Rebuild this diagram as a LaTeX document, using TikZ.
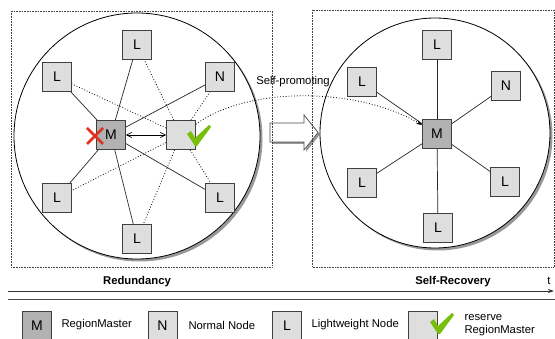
\documentclass[tikz,border=0pt]{standalone}
\usepackage{fontspec}
\setmainfont{Liberation Sans}
\usetikzlibrary{arrows.meta,shadows}
\definecolor{checkgreen}{HTML}{78BE0A}
\definecolor{crossred}{HTML}{E0301E}

\begin{document}
\begin{tikzpicture}[x=1pt,y=-1pt,
    sq/.style={shape=rectangle, draw=black!75, fill=black!13, line width=0.8pt, minimum size=29pt, inner sep=0pt,
      font=\fontsize{14}{14}\selectfont, general shadow={fill=black!40, shadow xshift=0.8pt, shadow yshift=-0.8pt}},
    msq/.style={sq, fill=black!30},
    solidlink/.style={draw=black!85, line width=0.7pt},
    dotlink/.style={draw=black, line width=0.8pt, dotted},
    dotframe/.style={draw=black!75, line width=0.6pt, densely dotted},
    ring/.style={draw=black, line width=0.8pt, fill=white},
    txt/.style={font=\fontsize{11.3}{13.5}\selectfont},
    phasetxt/.style={font=\fontsize{11.3}{13.5}\selectfont\bfseries},
    pics/greencheck/.style={code={\fill[checkgreen] (0,0) -- (4,-3) -- (8,4) -- (22,-9) -- (24,-7) -- (10,12) -- (8,12) -- cycle;}}]
    \useasboundingbox (0,0) rectangle (555,339);
    \fill[black!40] (272,125) -- (306,125) -- (306,117) -- (320,134.5) -- (306,152) -- (306,144) -- (272,144) -- cycle;
    \draw[fill=white, draw=black!70, line width=0.7pt] (270,123) -- (304,123) -- (304,115) -- (318,132.5) -- (304,150) -- (304,142) -- (270,142) -- cycle;
    \draw[dotframe] (11,11) rectangle (272,267);
    \draw[dotframe] (312,10) rectangle (554,267);
    \fill[black!40] (139.5,138.5) circle[radius=123];
    \draw[ring] (137,136) circle[radius=123];
    \fill[black!40] (437.5,135.5) circle[radius=115];
    \draw[ring] (435,133) circle[radius=115];

    \node[sq] at (137,45) (LT) {L};
    \node[sq] at (57,77) (LUL) {L};
    \node[sq] at (220,77) (NUR) {N};
    \node[msq] at (111,135) (M) {M};
    \node[sq] at (181,135) (R) {};
    \node[sq] at (57,198) (LLL) {L};
    \node[sq] at (220,198) (LLR) {L};
    \node[sq] at (137,239) (LB) {L};
    \path[solidlink] (M) edge (LT) edge (LUL) edge (NUR) edge (LLL) edge (LLR) edge (LB);
    \path[dotlink] (R) edge (LT) edge (LUL) edge (NUR) edge (LLL) edge (LLR) edge (LB);
    \draw[line width=0.7pt, {Straight Barb[length=5pt,width=5pt]}-{Straight Barb[length=5pt,width=5pt]}] (M) -- (R);
    \draw[crossred, line width=2.6pt] (87,128) -- (103,144) (87,144) -- (103,128);
    \pic at (187,134) {greencheck};

    \node[sq] at (437,45) (LT2) {L};
    \node[sq] at (362,82) (LUL2) {L};
    \node[sq] at (506,86) (NUR2) {N};
    \node[msq] at (437,134) (M2) {M};
    \node[sq] at (362,183) (LLL2) {L};
    \node[sq] at (505,182) (LLR2) {L};
    \node[sq] at (438,228) (LB2) {L};
    \path[solidlink] (M2) edge (LT2) edge (LUL2) edge (NUR2) edge (LLL2) edge (LLR2) edge (LB2);

    \node[txt] at (293,82) (promo) {Self-promoting};
    \draw[dotlink, -{Stealth[length=6pt,width=4pt]}] (R) .. controls (250,85) and (360,88) .. (M2);

    \node[phasetxt] at (137,282) (red) {Redundancy};
    \node[phasetxt] at (453,282) (rec) {Self-Recovery};
    \node[txt] at (549,281) (t) {t};
    \coordinate (t0) at (8,291);
    \coordinate (t1) at (554,291);
    \coordinate (b0) at (8,299);
    \coordinate (b1) at (555,299);
    \draw[black!80, line width=0.9pt, -{Stealth[length=6pt,width=4pt]}] (t0) -- (t1);
    \draw[black!70, line width=0.9pt] (b0) -- (b1);

    \node[msq] at (37,326) (kM) {M};
    \node[txt, anchor=west] at (58,325) (kMtxt) {RegionMaster};
    \node[sq] at (162.5,326) (kN) {N};
    \node[txt, anchor=west] at (185,325) (kNtxt) {Normal Node};
    \node[sq] at (287,326) (kL) {L};
    \node[txt, anchor=west] at (308,325) (kLtxt) {Lightweight Node};
    \node[sq] at (423,326) (kR) {};
    \pic at (430,322) {greencheck};
    \node[txt, anchor=west, align=left] at (461,325) (kRtxt) {reserve\\RegionMaster};
\end{tikzpicture}
\end{document}
